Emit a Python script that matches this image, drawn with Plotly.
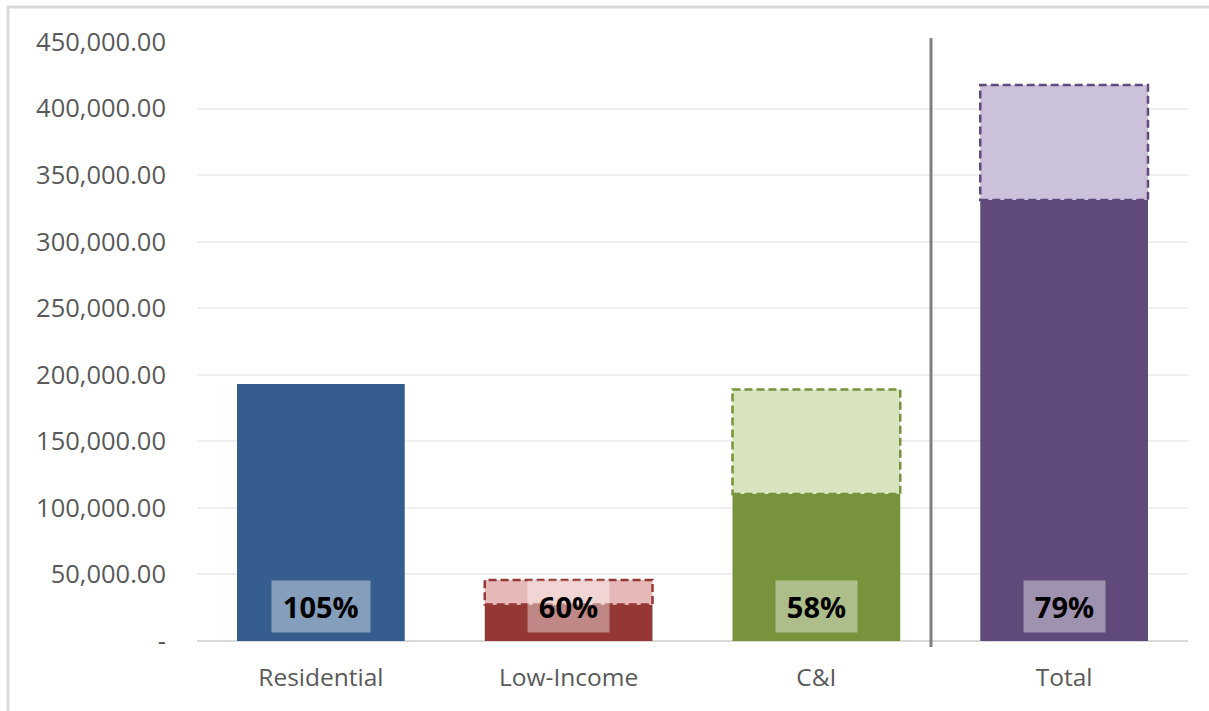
import plotly.graph_objects as go

categories = ["Residential", "Low-Income", "C&I", "Total"]
achieved = [193100, 27500, 110500, 331300]
goals = [183800, 45800, 189000, 417700]
pct_labels = ["105%", "60%", "58%", "79%"]
y_tickvals = [0, 50000, 100000, 150000, 200000, 250000, 300000, 350000, 400000, 450000]
y_ticktext = ["-", "50,000.00", "100,000.00", "150,000.00", "200,000.00", "250,000.00",
              "300,000.00", "350,000.00", "400,000.00", "450,000.00"]

dark_colors = ["#355E8F", "#953735", "#77933C", "#604A7B"]
light_colors = ["#B9CDE5", "#E6B9B8", "#D7E4BD", "#CCC1DA"]

remaining = [max(g - a, 0) for g, a in zip(goals, achieved)]

W, H = 1209, 711
L, R, T, B = 197, 21, 42, 70
pw, ph = W - L - R, H - T - B
FONT = "Open Sans"

fig = go.Figure()
fig.add_trace(go.Bar(x=categories, y=achieved, marker=dict(color=dark_colors, line=dict(width=0)),
                     name="Achieved", hoverinfo="y"))
fig.add_trace(go.Bar(x=categories, y=remaining, base=achieved,
                     marker=dict(color=light_colors, line=dict(width=0)),
                     name="Remaining", hoverinfo="y"))

bar_w = 0.677
shapes = []
for i, (a, g) in enumerate(zip(achieved, goals)):
    if g > a:
        shapes.append(dict(type="rect", xref="x", yref="y", x0=i - bar_w / 2, x1=i + bar_w / 2,
                           y0=a, y1=g, line=dict(color=dark_colors[i], width=2.5, dash="8px,4px"),
                           fillcolor="rgba(0,0,0,0)", layer="above"))

def px_x(p):
    return (p - L) / pw

def px_y(p):
    return (H - B - p) / ph

# separator line between C&I and Total
shapes.append(dict(type="line", xref="paper", yref="paper", x0=px_x(931), x1=px_x(931),
                   y0=px_y(38), y1=px_y(647), line=dict(color="#7F7F7F", width=3)))
# outer frame (top and left edges)
shapes.append(dict(type="line", xref="paper", yref="paper", x0=px_x(7), x1=px_x(W + 5),
                   y0=px_y(7), y1=px_y(7), line=dict(color="#D9D9D9", width=3)))
shapes.append(dict(type="line", xref="paper", yref="paper", x0=px_x(8), x1=px_x(8),
                   y0=px_y(7), y1=px_y(H + 5), line=dict(color="#D9D9D9", width=3)))

annotations = []
for i, lab in enumerate(pct_labels):
    annotations.append(dict(x=categories[i], y=26000, xref="x", yref="y",
                            text="\u2009<b>%s</b>\u2009" % lab,
                            showarrow=False, font=dict(family=FONT, size=29, color="#000000"),
                            bgcolor="rgba(255,255,255,0.4)", borderpad=6, yanchor="middle"))

fig.update_layout(
    width=W, height=H,
    margin=dict(l=L, r=R, t=T, b=B, autoexpand=False),
    paper_bgcolor="white", plot_bgcolor="white",
    barmode="overlay", bargap=1 - bar_w,
    showlegend=False,
    shapes=shapes, annotations=annotations,
    font=dict(family=FONT, color="#595959"),
)
fig.update_xaxes(showgrid=False, showline=False, zeroline=False, ticks="",
                 tickfont=dict(family=FONT, size=24.5, color="#595959"), ticklabelstandoff=19)
fig.update_yaxes(range=[0, 450000], tickvals=y_tickvals, ticktext=y_ticktext,
                 showgrid=True, gridcolor="#EFEFEF", gridwidth=2,
                 zeroline=True, zerolinecolor="#D9D9D9", zerolinewidth=2,
                 showline=False, ticks="", ticklabelstandoff=30,
                 tickfont=dict(family=FONT, size=25.5, color="#595959"))

fig.write_html("out.html", config={"displayModeBar": False},
               post_script="document.body.style.margin='0';")
